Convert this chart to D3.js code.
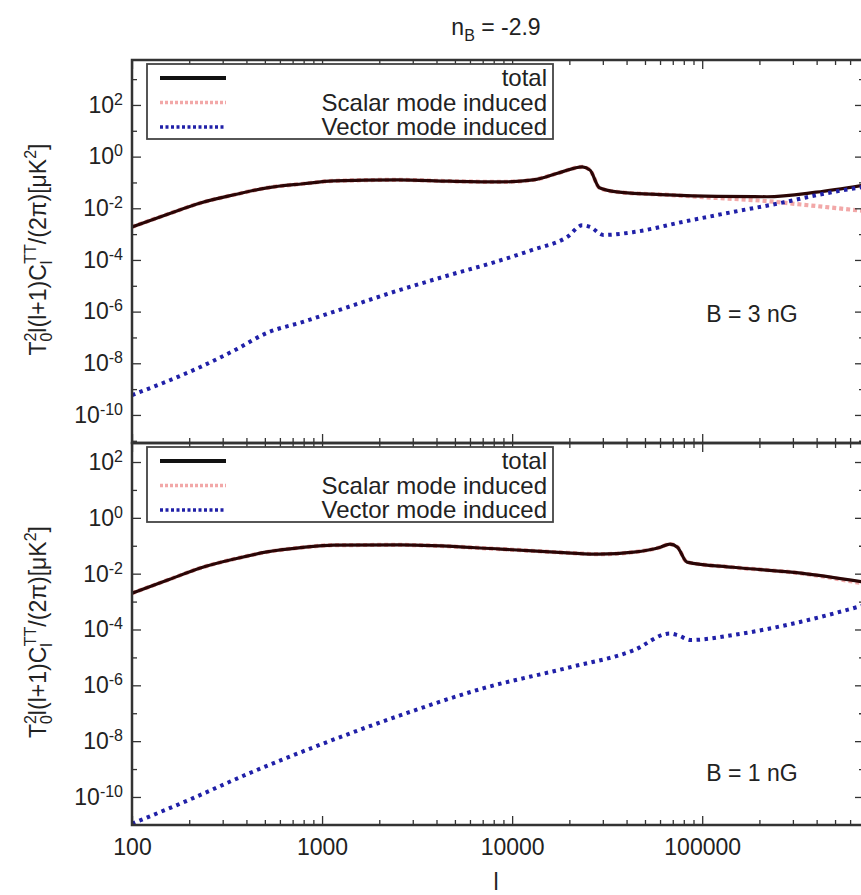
<!DOCTYPE html>
<html>
<head>
<meta charset="utf-8">
<script src="https://cdn.jsdelivr.net/npm/d3@7"></script>
<style>
body { margin: 0; background: #fff; }
text { font-family: "Liberation Sans", Arial, Helvetica, sans-serif; fill: #222; }
</style>
</head>
<body>
<script>
// ---- data (multipole l, T0^2 l(l+1)C_l/2pi in muK^2) ----
// B = 3 nG
var l3Total = [100, 158, 229, 355, 513, 794, 1150, 2510, 4680, 8710, 12900, 17800, 23400, 25700, 28800, 35500, 66100, 120000, 219000, 398000, 710000];
var v3Total = [1.9e-3, 6.3e-3, 0.016, 0.035, 0.062, 0.089, 0.115, 0.126, 0.112, 0.105, 0.126, 0.24, 0.40, 0.30, 0.062, 0.043, 0.033, 0.029, 0.028, 0.042, 0.079];
var l3Scalar = [100, 158, 229, 355, 513, 794, 1150, 2510, 4680, 8710, 12900, 17800, 23400, 25700, 28800, 35500, 66100, 120000, 219000, 331000, 710000];
var v3Scalar = [1.9e-3, 6.3e-3, 0.016, 0.035, 0.062, 0.089, 0.115, 0.126, 0.112, 0.105, 0.126, 0.24, 0.40, 0.30, 0.062, 0.043, 0.033, 0.025, 0.019, 0.014, 0.0079];
var l3Vector = [100, 158, 229, 355, 513, 794, 1150, 2570, 4680, 7940, 12900, 19500, 23400, 25700, 30200, 43600, 79400, 145000, 269000, 398000, 710000];
var v3Vector = [5.9e-10, 2.2e-9, 7.2e-9, 3.5e-8, 1.5e-7, 4.0e-7, 9.8e-7, 6.9e-6, 2.6e-5, 7.9e-5, 2.5e-4, 7.8e-4, 2.2e-3, 1.9e-3, 9.3e-4, 1.2e-3, 3.0e-3, 7.2e-3, 0.017, 0.032, 0.068];

// B = 1 nG
var l1Total = [100, 158, 229, 355, 513, 794, 1150, 2570, 8710, 19500, 28800, 43600, 60300, 67600, 74100, 83200, 145000, 331000, 710000];
var v1Total = [2.0e-3, 6.3e-3, 0.016, 0.035, 0.060, 0.087, 0.105, 0.107, 0.076, 0.056, 0.050, 0.059, 0.089, 0.115, 0.089, 0.026, 0.017, 0.0105, 0.005];
var l1Scalar = l1Total;
var v1Scalar = [2.0e-3, 6.3e-3, 0.016, 0.035, 0.060, 0.087, 0.105, 0.107, 0.076, 0.056, 0.050, 0.059, 0.089, 0.115, 0.089, 0.026, 0.017, 0.0103, 0.0044];
var l1Vector = [100, 200, 398, 1000, 2510, 7080, 19500, 43600, 67600, 74100, 87100, 145000, 331000, 710000];
var v1Vector = [1.1e-11, 7.9e-11, 6.3e-10, 7.9e-9, 7.9e-8, 7.9e-7, 4.2e-6, 1.8e-5, 7.2e-5, 6.3e-5, 4.2e-5, 6.3e-5, 1.9e-4, 7.4e-4];

var legendNames = ["total", "Scalar mode induced", "Vector mode induced"];
var xMajor = [100, 1000, 10000, 100000];
var yMajor = [1e-10, 1e-8, 1e-6, 1e-4, 1e-2, 1, 1e2];
var yMinor = [1e-11, 1e-9, 1e-7, 1e-5, 1e-3, 1e-1, 10, 1e3];

var svg = d3.select("body")
    .append("svg")
    .attr("width", 861)
    .attr("height", 895)
    .style("display", "block");

var left = 132, right = 864;
var x = d3.scaleLog().domain([100, 7.1e5]).range([left, right]);

var xMinor = [];
[100, 1000, 10000, 100000].forEach(function (d) {
    for (var k = 2; k <= 9; k++) xMinor.push(d * k);
});

var styles = {
    total: {stroke: "#2a0606", width: 3.2, dash: null},
    scalar: {stroke: "#f2a8a8", width: 4.2, dash: "4,3"},
    vector: {stroke: "#2020a8", width: 4, dash: "3.5,4.5"}
};

var line = d3.line()
    .x(function (d) { return x(d[0]); })
    .y(function (d) { return d.y; })
    .curve(d3.curveMonotoneX);

function supLabel(sel) {
    sel.selectAll(".tick text").each(function (d) {
        var t = d3.select(this).text("");
        t.append("tspan").text("10");
        t.append("tspan").attr("dy", "-0.5em").attr("font-size", 16).text(Math.round(Math.log10(d)));
    });
}

function panel(id, top, bottom, yDomain, series, label, labelY, showX) {
    var y = d3.scaleLog().domain(yDomain).range([bottom, top]);
    var g = svg.append("g");

    g.append("clipPath").attr("id", "clip" + id)
        .append("rect").attr("x", left).attr("y", top).attr("width", right - left).attr("height", bottom - top);

    var plot = g.append("g").attr("clip-path", "url(#clip" + id + ")");
    // scalar under total, vector last
    ["scalar", "total", "vector"].forEach(function (k) {
        var s = series[k];
        var pts = s[0].map(function (l, i) { var p = [l, s[1][i]]; p.y = y(s[1][i]); return p; });
        plot.append("path")
            .attr("d", line(pts))
            .attr("fill", "none")
            .attr("stroke", styles[k].stroke)
            .attr("stroke-width", styles[k].width)
            .attr("stroke-dasharray", styles[k].dash);
    });

    // ticks on all four sides
    function axisG(axis, tx, ty) {
        var a = g.append("g").attr("transform", "translate(" + tx + "," + ty + ")").call(axis);
        a.select(".domain").remove();
        a.selectAll(".tick line").attr("stroke", "#333").attr("stroke-width", 1.3);
        return a;
    }
    var inside = function (v) { return y(v) > top + 2 && y(v) < bottom - 2; };
    var yl = axisG(d3.axisLeft(y).tickValues(yMajor).tickSize(-9).tickPadding(9), left, 0);
    yl.selectAll(".tick text").attr("font-size", 23).attr("fill", "#222")
        .style("font-family", "'Liberation Sans', Arial, sans-serif");
    supLabel(yl);
    axisG(d3.axisLeft(y).tickValues(yMinor.filter(inside)).tickSize(-5).tickFormat(""), left, 0);
    axisG(d3.axisRight(y).tickValues(yMajor).tickSize(-9).tickFormat(""), right, 0);
    axisG(d3.axisRight(y).tickValues(yMinor.filter(inside)).tickSize(-5).tickFormat(""), right, 0);

    var xb = axisG(d3.axisBottom(x).tickValues(xMajor).tickSize(-9).tickPadding(14)
        .tickFormat(showX ? d3.format("d") : ""), 0, bottom);
    xb.selectAll(".tick text").attr("font-size", 23).attr("fill", "#222")
        .style("font-family", "'Liberation Sans', Arial, sans-serif");
    axisG(d3.axisBottom(x).tickValues(xMinor).tickSize(-5).tickFormat(""), 0, bottom);
    axisG(d3.axisTop(x).tickValues(xMajor).tickSize(-9).tickFormat(""), 0, top);
    axisG(d3.axisTop(x).tickValues(xMinor).tickSize(-5).tickFormat(""), 0, top);

    // frame
    g.append("rect")
        .attr("x", left).attr("y", top)
        .attr("width", right - left).attr("height", bottom - top)
        .attr("fill", "none").attr("stroke", "#333").attr("stroke-width", 2.5);

    // legend
    var lg = g.append("g").attr("transform", "translate(147," + (top + 4) + ")");
    lg.append("rect").attr("width", 406).attr("height", 75)
        .attr("fill", "#fff").attr("stroke", "#444").attr("stroke-width", 1.8);
    ["total", "scalar", "vector"].forEach(function (k, i) {
        var cy = 14 + i * 24.5;
        lg.append("line")
            .attr("x1", 13).attr("x2", 79).attr("y1", cy).attr("y2", cy)
            .attr("stroke", k == "total" ? "#111" : styles[k].stroke)
            .attr("stroke-width", k == "total" ? 4 : 3.5)
            .attr("stroke-dasharray", k == "total" ? null : (k == "scalar" ? "3,2" : "3,2.5"));
        lg.append("text")
            .attr("x", 400).attr("y", cy + 8)
            .attr("text-anchor", "end")
            .attr("font-size", 24)
            .text(legendNames[i]);
    });

    g.append("text")
        .attr("x", 752).attr("y", labelY)
        .attr("text-anchor", "middle")
        .attr("font-size", 23)
        .text(label);

    // y axis title
    var cy = (top + bottom) / 2 - 2;
    var t = g.append("text")
        .attr("transform", "translate(46," + cy + ") rotate(-90)")
        .attr("text-anchor", "middle")
        .attr("font-size", 23);
    t.append("tspan").text("T");
    t.append("tspan").attr("font-size", 16).attr("dy", 6).text("0");
    t.append("tspan").attr("font-size", 16).attr("dx", -9).attr("dy", -16).text("2");
    t.append("tspan").attr("dy", 10).text("l(l+1)C");
    t.append("tspan").attr("font-size", 16).attr("dy", 6).text("l");
    t.append("tspan").attr("font-size", 16).attr("dx", -3).attr("dy", -16).text("TT");
    t.append("tspan").attr("dy", 10).text("/(2\u03c0)[\u03bcK");
    t.append("tspan").attr("font-size", 16).attr("dy", -10).text("2");
    t.append("tspan").attr("dy", 10).text("]");
}

panel("a", 60, 443, [8.2e-12, 5.5e3], {
    total: [l3Total, v3Total],
    scalar: [l3Scalar, v3Scalar],
    vector: [l3Vector, v3Vector]
}, "B = 3 nG", 322, false);

panel("b", 443, 825, [9.9e-12, 4.8e2], {
    total: [l1Total, v1Total],
    scalar: [l1Scalar, v1Scalar],
    vector: [l1Vector, v1Vector]
}, "B = 1 nG", 781, true);

// title
var title = svg.append("text")
    .attr("x", 496).attr("y", 35)
    .attr("text-anchor", "middle")
    .attr("font-size", 23);
title.append("tspan").text("n");
title.append("tspan").attr("font-size", 16).attr("dy", 6).text("B");
title.append("tspan").attr("dy", -6).text(" = -2.9");

// x axis title
svg.append("text")
    .attr("x", 496).attr("y", 890)
    .attr("text-anchor", "middle")
    .attr("font-size", 23)
    .text("l");
</script>
</body>
</html>
